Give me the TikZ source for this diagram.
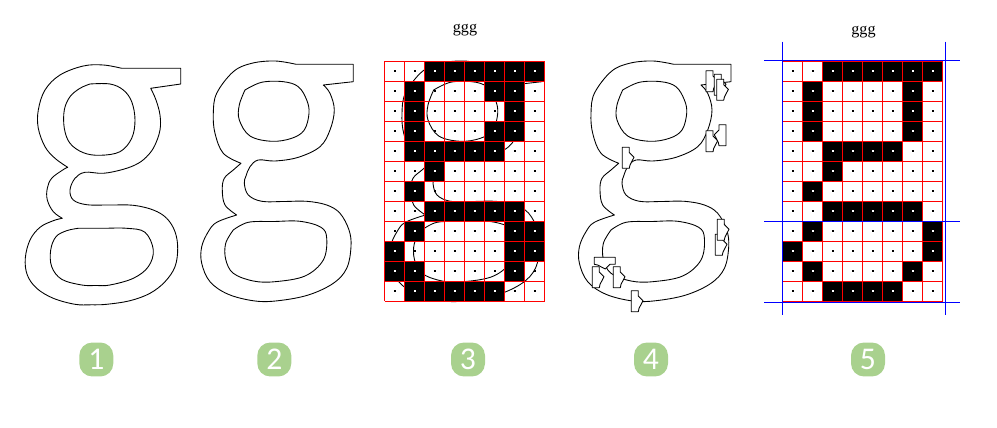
\documentclass[tikz,border=0pt]{standalone}
\usepackage{fontspec}
\setmainfont{Liberation Serif}
\newfontfamily\badgefont{Carlito}
\newcommand{\curve}[1]{-- plot[smooth,tension=0.6] coordinates {#1}}
\newcommand{\glyphA}{
 (121.7,68.3) -- (180.7,68.3) -- (180.7,84)
 -- (150.7,88.3) \curve{(150.7,88.3)(156,100)(160,115)(160,130)(155,145)(148.3,155)(138.3,163.3)(123.3,169.3)(103.3,173.3)(85,172.3)(75,178.3)(70,190)(73.3,200)(86.7,204.7)(110,205)(133.3,205.3)(153.3,210)(166.7,218.3)(175,231.7)(177.7,248.3)(175,266.7)(165,281.7)(150,293.3)(130,300.7)(106.7,304.3)(91,304.8)(75,304.3)(53.3,298.3)(36.7,288.3)(27.3,275)(25.3,258.3)(30,240)(40,227.3)(53.3,220.7)(62.3,218.3)}
 \curve{(62.3,218.3)(53.3,211.7)(47.3,200)(47.3,188.3)(51.7,178.3)(62.7,170)(67.7,167.3)}
 \curve{(67.7,167.3)(55,158.3)(45,146.7)(38.3,128.3)(38.3,110)(45,90)(60,75)(83.3,66)(103.3,65)(121.7,68.3)} -- cycle
 (90,84) \curve{(90,84)(110,84)(123.3,90)(131.7,101.7)(135,120)(131.7,138.3)(120,151.7)(100,155.3)(83.3,152.7)(70,143.3)(64.3,128.3)(64.3,110)(70,96.7)(80,88.3)(90,84)} -- cycle
 (78.3,228.3) \curve{(78.3,228.3)(102,228.3)(126.7,228.3)(145,232.3)(153.3,250)(148.3,266.7)(133.3,278.3)(110,285)(96,285.5)(81.7,285)(61.7,279.3)(51.7,266.7)(50.7,250)(56,236.7)(66.7,230.7)(78.3,228.3)} -- cycle
}
\newcommand{\glyphB}{
 (296,64.3) -- (353.3,64.3) -- (353.3,81.7)
 -- (323.3,85) \curve{(323.3,85)(330,93.3)(334.3,110)(330,130)(320,146.7)(298.3,157.3)(275,161)(258.3,160)(250,166.7)(246,176)(244.3,183.3)(248.3,195)(261.7,201.3)(284,201.5)(306.7,201.3)(326.7,205)(340,213.3)(349,230)(351,246.7)(346.7,268.3)(333.3,283.3)(308.3,295)(278.3,300.7)(255,301)(228.3,294.3)(210,281.7)(201.7,263.3)(201.7,246.7)(208.3,231.7)(216.7,222.3)(236.7,215)}
 \curve{(236.7,215)(225,205)(222.3,190)(224.3,178.3)(233.3,170)(241,163.3)}
 \curve{(241,163.3)(223.3,153.3)(215,133.3)(213.3,113.3)(216.7,93.3)(233.3,71.7)(251.7,63.3)(275,61)(296,64.3)} -- cycle
 (245,90) \curve{(245,90)(261.7,82.3)(283.3,81.7)(298.3,86.7)(306.7,100)(309,113.3)(304.3,130)(291.7,138.3)(271.7,141.3)(250,136)(239.3,120)(239.3,105)(245,90)} -- cycle
 (233.3,230) \curve{(233.3,230)(248.3,222.3)(274,221.5)(300,221.3)(321,227.3)(326.7,238.3)(323.3,260)(305,276)(275,281.7)(253.3,281)(233.3,273.3)(225.7,259.3)(225.7,243.3)(233.3,230)} -- cycle
}
\newcommand{\bitmap}[2]{
 \foreach \r/\cols in {#2}
  \foreach \c in \cols
   \fill (#1+20*\c,61.5+20*\r) rectangle ++(20,20);
 \foreach \r in {0,...,11}
  \foreach \c in {0,...,7}
   \fill[black] (#1+20*\c+9,61.5+20*\r+9) rectangle ++(2,2);
 \foreach \r/\cols in {#2}
  \foreach \c in \cols
   \fill[white] (#1+20*\c+9,61.5+20*\r+9) rectangle ++(2,2);
 \foreach \c in {0,...,8}
  \draw[cellline] (#1+20*\c,61.5) -- (#1+20*\c,301.5);
 \foreach \r in {0,...,12}
  \draw[cellline] (#1,61.5+20*\r) -- (#1+160,61.5+20*\r);
}
\tikzset{
 glyph/.style={line width=0.5pt, line join=round},
 cellline/.style={red, line width=0.85pt},
 guideline/.style={blue, line width=0.8pt},
 badge/.style={fill=badgegreen, rounded corners=0.26cm, minimum size=0.68cm, inner sep=0pt, text=white, font=\badgefont\fontsize{18}{18}\selectfont},
 tagbox/.pic={\draw[glyph, fill=white] (0,0) -- (7,0) -- (7,5.3) -- (11.7,10) -- (7.7,17.7) -- (7,21) -- (0,21) -- cycle;}
}
\definecolor{badgegreen}{HTML}{A9D18E}
\begin{document}
\begin{tikzpicture}[x=0.02cm, y=-0.02cm]
 \useasboundingbox (0,0) rectangle (997,428);
 \draw[glyph] \glyphA;
 \draw[glyph] \glyphB;
 \begin{scope}[shift={(188.7,0)}]
  \draw[glyph] \glyphB;
 \end{scope}
 \bitmap{384.5}{0/{2,3,4,5,6,7},1/{1,5,6},2/{1,6},3/{1,5,6},4/{1,2,3,4,5},5/{2},6/{1},7/{2,3,4,5,6},8/{1,6,7},9/{0,6,7},10/{0,1,6},11/{1,2,3,4,5}}
 \node (title3) at (465,30.5) {\fontsize{9.2}{9.2}\selectfont ggg};
 \begin{scope}[shift={(377.7,0)}]
  \draw[glyph] \glyphB;
 \end{scope}
 \pic at (706,70.7) {tagbox};
 \pic at (714.3,74.3) {tagbox};
 \pic at (716.7,79.3) {tagbox};
 \pic at (706,130.7) {tagbox};
 \pic[xscale=-1] at (726,124.7) {tagbox};
 \pic at (622.3,147.3) {tagbox};
 \pic at (715.3,234.3) {tagbox};
 \pic at (717.3,219.3) {tagbox};
 \pic[rotate=-90] at (615.3,257.3) {tagbox};
 \pic at (592.3,266.7) {tagbox};
 \pic at (613.3,266.7) {tagbox};
 \pic at (631.3,290.7) {tagbox};
 \bitmap{782.5}{0/{2,3,4,5,6,7},1/{1,6},2/{1,6},3/{1,6},4/{2,3,4,5},5/{2},6/{1},7/{2,3,4,5,6},8/{1,7},9/{0,7},10/{1,6},11/{2,3,4,5}}
 \node (title5) at (863.5,32) {\fontsize{9.2}{9.2}\selectfont ggg};
 \draw[guideline] (764,60.3) -- (960,60.3);
 \draw[guideline] (764,221.3) -- (960,221.3);
 \draw[guideline] (764,302.3) -- (960,302.3);
 \draw[guideline] (782.3,41.7) -- (782.3,315);
 \draw[guideline] (945.3,41.7) -- (945.3,315);
 \node[badge] (b1) at (96.3,359.5) {1};
 \node[badge] (b2) at (274.3,359.5) {2};
 \node[badge] (b3) at (468,359.5) {3};
 \node[badge] (b4) at (651,359.5) {4};
 \node[badge] (b5) at (868,359.5) {5};
\end{tikzpicture}
\end{document}
